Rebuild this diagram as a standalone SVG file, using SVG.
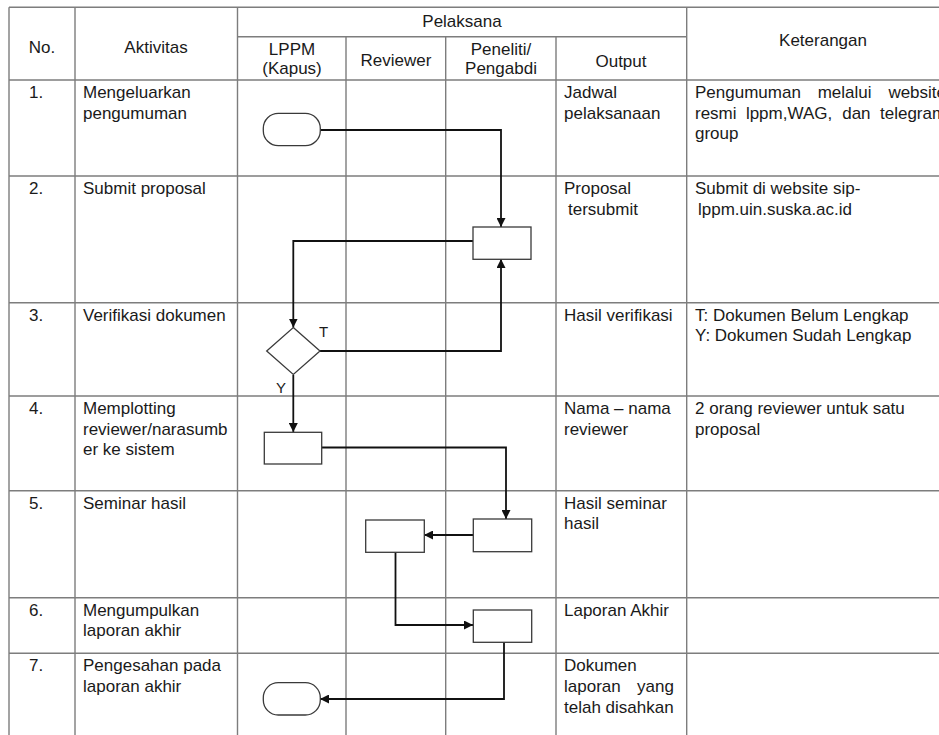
<svg xmlns="http://www.w3.org/2000/svg" width="939" height="735" viewBox="0 0 939 735">
<style>
text{font-family:"Liberation Sans",Arial,sans-serif;font-size:17px;fill:#1a1a1a}
.c{text-anchor:middle}
.g{stroke:#7d7d7d;stroke-width:1.4;fill:none}
.s{stroke:#3a3a3a;stroke-width:1.3;fill:#fff}
.k{stroke:#111;stroke-width:1.8;fill:none;marker-end:url(#ah)}
.lbl{font-size:15px}
</style>
<defs>
<marker id="ah" viewBox="0 0 10 10" refX="10" refY="5" markerWidth="9" markerHeight="9" markerUnits="userSpaceOnUse" orient="auto">
<path d="M0,0 L10,5 L0,10 z" fill="#111"/>
</marker>
</defs>
<rect width="939" height="735" fill="#fff"/>
<g id="grid">
<path class="g" d="M9,7.3 H939 M237.5,36.7 H686.7 M9,80 H939 M9,176 H939 M9,302.7 H939 M9,396 H939 M9,490.7 H939 M9,597.7 H939 M9,653.3 H939"/>
<path class="g" d="M9,7.3 V735 M75,7.3 V735 M237.5,7.3 V735 M346,36.7 V735 M445.7,36.7 V735 M556,36.7 V735 M686.7,7.3 V735"/>
</g>
<g id="header">
<text class="c" x="42" y="53">No.</text>
<text class="c" x="156" y="53">Aktivitas</text>
<text class="c" x="462" y="27">Pelaksana</text>
<text class="c" x="292" y="55">LPPM</text>
<text class="c" x="292" y="74">(Kapus)</text>
<text class="c" x="396" y="66">Reviewer</text>
<text class="c" x="501" y="55">Peneliti/</text>
<text class="c" x="501" y="74">Pengabdi</text>
<text class="c" x="621" y="67">Output</text>
<text class="c" x="823" y="46">Keterangan</text>
</g>
<g id="row1">
<text x="29" y="98">1.</text>
<text x="83" y="98">Mengeluarkan</text>
<text x="83" y="118.7">pengumuman</text>
<text x="564" y="98">Jadwal</text>
<text x="564" y="118.7">pelaksanaan</text>
<text x="695" y="98">Pengumuman</text>
<text x="817.7" y="98">melalui</text>
<text x="888.4" y="98">website</text>
<text x="695" y="118.7">resmi</text>
<text x="745.9" y="118.7">lppm,WAG,</text>
<text x="842.2" y="118.7">dan</text>
<text x="880" y="118.7">telegram</text>
<text x="695" y="139.4">group</text>
</g>
<g id="row2">
<text x="29" y="194">2.</text>
<text x="83" y="194">Submit proposal</text>
<text x="564" y="194">Proposal</text>
<text x="568" y="214.7">tersubmit</text>
<text x="695" y="194">Submit di website sip-</text>
<text x="698" y="214.7">lppm.uin.suska.ac.id</text>
</g>
<g id="row3">
<text x="29" y="320.7">3.</text>
<text x="83" y="320.7">Verifikasi dokumen</text>
<text x="564" y="320.7">Hasil verifikasi</text>
<text x="695" y="320.7">T: Dokumen Belum Lengkap</text>
<text x="695" y="341.4">Y: Dokumen Sudah Lengkap</text>
</g>
<g id="row4">
<text x="29" y="414">4.</text>
<text x="83" y="414">Memplotting</text>
<text x="83" y="434.7">reviewer/narasumb</text>
<text x="83" y="455.4">er ke sistem</text>
<text x="564" y="414">Nama – nama</text>
<text x="564" y="434.7">reviewer</text>
<text x="695" y="414">2 orang reviewer untuk satu</text>
<text x="695" y="434.7">proposal</text>
</g>
<g id="row5">
<text x="29" y="508.7">5.</text>
<text x="83" y="508.7">Seminar hasil</text>
<text x="564" y="508.7">Hasil seminar</text>
<text x="564" y="529.4">hasil</text>
</g>
<g id="row6">
<text x="29" y="615.7">6.</text>
<text x="83" y="615.7">Mengumpulkan</text>
<text x="83" y="636.4">laporan akhir</text>
<text x="564" y="615.7">Laporan Akhir</text>
</g>
<g id="row7">
<text x="29" y="671.3">7.</text>
<text x="83" y="671.3">Pengesahan pada</text>
<text x="83" y="692">laporan akhir</text>
<text x="564" y="671.3">Dokumen</text>
<text x="564" y="692">laporan</text>
<text x="637" y="692">yang</text>
<text x="564" y="712.7">telah disahkan</text>
</g>
<g id="connectors">
<path class="k" d="M320,130 H501 V227"/>
<path class="k" d="M473,241 H293.3 V327.5"/>
<path class="k" d="M320,351 H501 V259"/>
<path class="k" d="M293.3,375 V432"/>
<path class="k" d="M322,447.5 H506 V519"/>
<path class="k" d="M473,535 H424"/>
<path class="k" d="M395.5,552 V625 H473"/>
<path class="k" d="M504,642 V699 H320"/>
</g>
<g id="start"><rect class="s" x="263.3" y="113.3" width="57" height="32.4" rx="15"/></g>
<g id="submit"><rect class="s" x="473" y="227" width="58" height="32.3"/></g>
<g id="verify"><polygon class="s" points="293.3,327.5 320,351 293.3,374.5 266.7,351"/>
<text class="lbl" x="319" y="337">T</text>
<text class="lbl" x="276" y="392.5">Y</text></g>
<g id="plot"><rect class="s" x="264.3" y="432.3" width="57.4" height="31.7"/></g>
<g id="seminarP"><rect class="s" x="473.3" y="519" width="58.4" height="32.7"/></g>
<g id="seminarR"><rect class="s" x="365.7" y="520" width="58.6" height="32.3"/></g>
<g id="collect"><rect class="s" x="473.3" y="610" width="58.4" height="32.3"/></g>
<g id="end"><rect class="s" x="263.3" y="682.7" width="57" height="32.3" rx="15"/></g>
</svg>
